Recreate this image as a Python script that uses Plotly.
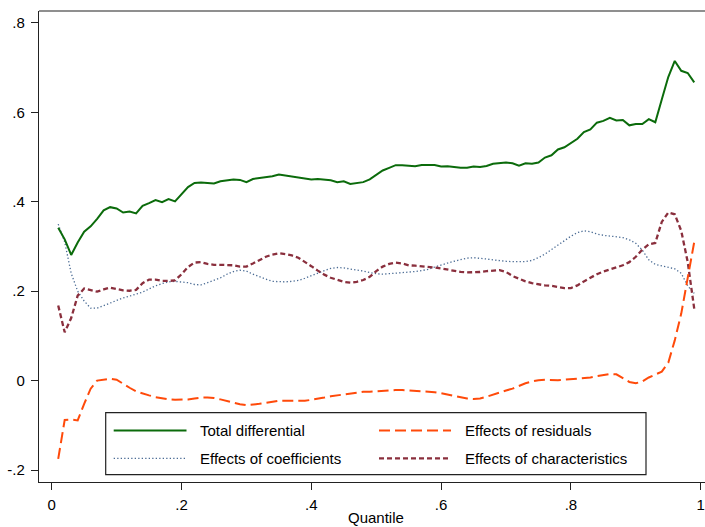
import plotly.graph_objects as go

quantile = [i / 100 for i in range(1, 100)]

total_differential = [
    0.342, 0.316, 0.281, 0.309, 0.333, 0.345, 0.362, 0.381, 0.388, 0.385,
    0.376, 0.378, 0.374, 0.391, 0.397, 0.404, 0.399, 0.406, 0.401, 0.418,
    0.433, 0.442, 0.443, 0.442, 0.441, 0.446, 0.448, 0.450, 0.449, 0.444,
    0.451, 0.453, 0.455, 0.457, 0.461, 0.459, 0.457, 0.454, 0.452, 0.450,
    0.451, 0.449, 0.448, 0.444, 0.446, 0.440, 0.442, 0.444, 0.450, 0.461,
    0.470, 0.476, 0.482, 0.482, 0.481, 0.4795, 0.4825, 0.4825, 0.4825, 0.479,
    0.4795, 0.478, 0.476, 0.476, 0.479, 0.478, 0.480, 0.485, 0.487, 0.488,
    0.486, 0.481, 0.486, 0.485, 0.488, 0.499, 0.504, 0.517, 0.522, 0.532,
    0.541, 0.556, 0.562, 0.577, 0.581, 0.588, 0.582, 0.583, 0.571, 0.574,
    0.574, 0.585, 0.578, 0.629, 0.679, 0.715, 0.693, 0.688, 0.667,
]

effects_residuals = [
    -0.175, -0.088, -0.087, -0.089, -0.052, -0.018, 0.000, 0.002, 0.004, 0.002,
    -0.008, -0.016, -0.024, -0.029, -0.033, -0.037, -0.040, -0.042, -0.043, -0.043,
    -0.042, -0.040, -0.038, -0.038, -0.039, -0.042, -0.046, -0.050, -0.053, -0.055,
    -0.054, -0.052, -0.050, -0.047, -0.045, -0.045, -0.045, -0.045, -0.045, -0.043,
    -0.041, -0.038, -0.035, -0.033, -0.031, -0.028, -0.026, -0.025, -0.025, -0.024,
    -0.023, -0.021, -0.021, -0.021, -0.022, -0.023, -0.023, -0.024, -0.026, -0.028,
    -0.031, -0.034, -0.037, -0.040, -0.041, -0.040, -0.036, -0.031, -0.026, -0.022,
    -0.018, -0.012, -0.006, -0.002, 0.001, 0.002, 0.001, 0.001, 0.002, 0.003,
    0.004, 0.005, 0.007, 0.010, 0.013, 0.015, 0.014, 0.006, -0.003, -0.006,
    -0.002, 0.007, 0.013, 0.020, 0.040, 0.090, 0.150, 0.230, 0.310,
]

effects_coefficients = [
    0.350, 0.310, 0.240, 0.200, 0.178, 0.162, 0.162, 0.168, 0.174, 0.180,
    0.185, 0.189, 0.193, 0.198, 0.205, 0.212, 0.217, 0.221, 0.222, 0.221,
    0.219, 0.215, 0.214, 0.219, 0.225, 0.230, 0.238, 0.244, 0.247, 0.245,
    0.238, 0.232, 0.227, 0.222, 0.221, 0.221, 0.222, 0.224, 0.229, 0.235,
    0.241, 0.246, 0.251, 0.253, 0.252, 0.250, 0.248, 0.245, 0.242, 0.239,
    0.238, 0.239, 0.241, 0.242, 0.243, 0.244, 0.246, 0.249, 0.254, 0.259,
    0.263, 0.267, 0.271, 0.274, 0.275, 0.274, 0.272, 0.270, 0.268, 0.267,
    0.266, 0.266, 0.266, 0.269, 0.275, 0.283, 0.293, 0.304, 0.314, 0.323,
    0.331, 0.335, 0.333, 0.328, 0.325, 0.323, 0.322, 0.320, 0.315, 0.307,
    0.292, 0.270, 0.260, 0.257, 0.254, 0.250, 0.240, 0.212, 0.195,
]

effects_characteristics = [
    0.168, 0.108, 0.140, 0.190, 0.206, 0.203, 0.199, 0.204, 0.208, 0.205,
    0.202, 0.201, 0.203, 0.218, 0.226, 0.226, 0.223, 0.223, 0.224, 0.238,
    0.254, 0.264, 0.265, 0.261, 0.259, 0.259, 0.259, 0.258, 0.255, 0.255,
    0.262, 0.270, 0.277, 0.282, 0.285, 0.283, 0.280, 0.275, 0.266, 0.256,
    0.246, 0.237, 0.230, 0.225, 0.221, 0.219, 0.221, 0.225, 0.232, 0.245,
    0.255, 0.261, 0.264, 0.262, 0.258, 0.257, 0.256, 0.255, 0.253, 0.251,
    0.248, 0.245, 0.243, 0.242, 0.242, 0.243, 0.245, 0.246, 0.247, 0.243,
    0.234, 0.228, 0.222, 0.218, 0.215, 0.213, 0.212, 0.210, 0.207, 0.207,
    0.213, 0.222, 0.230, 0.238, 0.244, 0.249, 0.253, 0.258, 0.265, 0.277,
    0.293, 0.305, 0.308, 0.355, 0.376, 0.372, 0.335, 0.265, 0.161,
]

x_tickvals = [0, 0.2, 0.4, 0.6, 0.8, 1]
x_ticktext = ["0", ".2", ".4", ".6", ".8", "1"]
y_tickvals = [-0.2, 0, 0.2, 0.4, 0.6, 0.8]
y_ticktext = ["-.2", "0", ".2", ".4", ".6", ".8"]

FONT = "Liberation Sans, Arial, sans-serif"
styles = {
    "Total differential": dict(color="#0b6b0b", width=2.0, dash="solid"),
    "Effects of residuals": dict(color="#ff4a0a", width=2.0, dash="11px,5px"),
    "Effects of coefficients": dict(color="#4a6b94", width=1.3, dash="1.3px,2.2px"),
    "Effects of characteristics": dict(color="#8a2f3d", width=2.3, dash="5px,3px"),
}
data_by_name = {
    "Total differential": total_differential,
    "Effects of residuals": effects_residuals,
    "Effects of coefficients": effects_coefficients,
    "Effects of characteristics": effects_characteristics,
}

fig = go.Figure()
for name in ["Effects of coefficients", "Effects of characteristics",
             "Effects of residuals", "Total differential"]:
    fig.add_trace(go.Scatter(x=quantile, y=data_by_name[name], mode="lines",
                             name=name, line=styles[name], showlegend=False,
                             cliponaxis=True))

W, H = 705, 527
ML, MR, MT, MB = 39, 0, 11, 45
PW, PH = W - ML - MR, H - MT - MB


def px_x(p):
    return (p - ML) / PW


def px_y(p):
    return (H - MB - p) / PH


fig.update_layout(
    width=W, height=H,
    margin=dict(l=ML, r=MR, t=MT, b=MB, pad=0, autoexpand=False),
    paper_bgcolor="white", plot_bgcolor="white",
    font=dict(family=FONT, size=15, color="black"),
    xaxis=dict(range=[-0.0196, 1.0066], tickvals=x_tickvals, ticktext=x_ticktext,
               ticks="outside", ticklen=7, tickwidth=1, tickcolor="#222",
               showline=True, linecolor="#222", linewidth=1.3, showgrid=False,
               zeroline=False, tickfont=dict(size=15), automargin=False,
               ticklabelstandoff=2),
    yaxis=dict(range=[-0.2268, 0.8268], tickvals=y_tickvals, ticktext=y_ticktext,
               ticks="outside", ticklen=7, tickwidth=1, tickcolor="#222",
               showline=True, linecolor="#222", linewidth=1.3, showgrid=False,
               zeroline=False, tickfont=dict(size=15), automargin=False,
               ticklabelstandoff=3),
)

# x axis title
fig.add_annotation(text="Quantile", xref="paper", yref="paper",
                   x=px_x(376), y=px_y(517), xanchor="center", yanchor="middle",
                   showarrow=False, font=dict(family=FONT, size=15, color="black"))

# top outline of plot region
fig.add_shape(type="line", xref="paper", yref="paper", x0=0, x1=1, y0=1, y1=1,
              line=dict(color="#6a6a6a", width=1.5))

# legend box
fig.add_shape(type="rect", xref="paper", yref="paper",
              x0=px_x(105.7), x1=px_x(646), y0=px_y(474.7), y1=px_y(412.7),
              line=dict(color="#222", width=1.2), fillcolor="white", layer="above")

legend_layout = [
    ("Total differential", 113.7, 186.5, 198, 430.5),
    ("Effects of residuals", 379, 451, 463, 430.5),
    ("Effects of coefficients", 113.7, 186.5, 198, 458.3),
    ("Effects of characteristics", 379, 451, 463, 458.3),
]
for name, sx0, sx1, tx, ty in legend_layout:
    st = styles[name]
    fig.add_shape(type="line", xref="paper", yref="paper",
                  x0=px_x(sx0), x1=px_x(sx1), y0=px_y(ty), y1=px_y(ty),
                  line=dict(color=st["color"], width=st["width"], dash=st["dash"]),
                  layer="above")
    fig.add_annotation(text=name, xref="paper", yref="paper", x=px_x(tx), y=px_y(ty),
                       xanchor="left", yanchor="middle", showarrow=False,
                       font=dict(family=FONT, size=15, color="black"))

fig.write_html(
    "out.html",
    config={"displayModeBar": False},
    post_script="document.body.style.margin='0';document.body.style.overflow='hidden';",
)
